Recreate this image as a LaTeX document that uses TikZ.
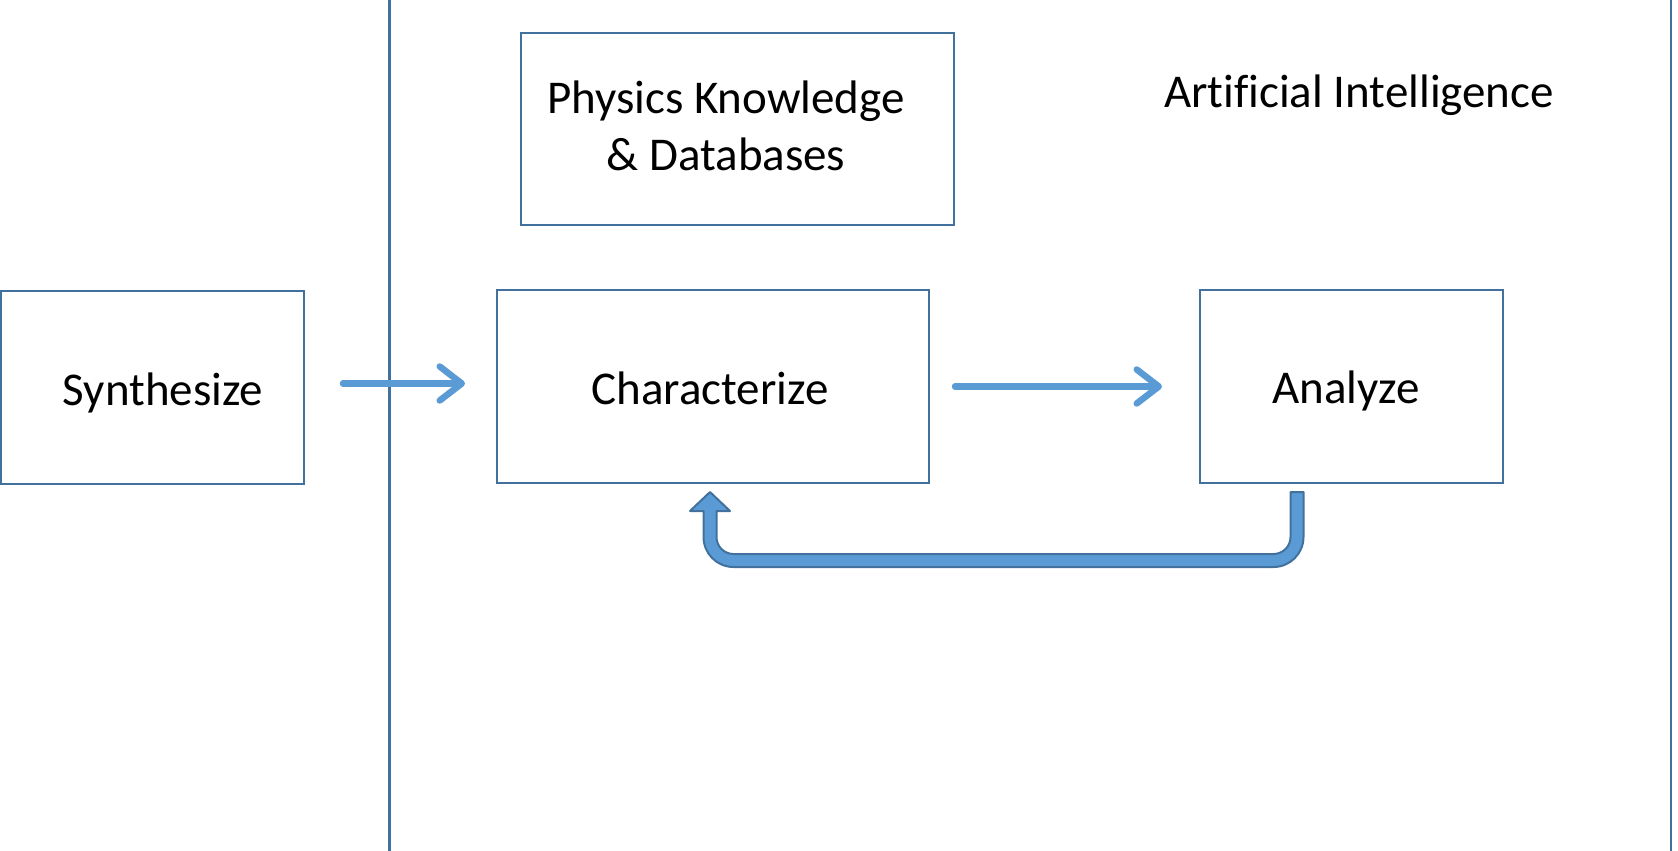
\documentclass[tikz,border=0pt]{standalone}
\usepackage{fontspec}
\setmainfont[Ligatures=NoCommon]{Carlito}
\usetikzlibrary{arrows.meta,calc}
\definecolor{edgeblue}{HTML}{41719C}
\definecolor{flowblue}{HTML}{5B9BD5}
\newcommand{\lowered}[2]{\raisebox{-#1}[\height][\depth]{#2}}
\begin{document}
\begin{tikzpicture}[x=1pt,y=-1pt,
  labelfont/.style={font=\fontsize{47}{57}\selectfont},
  box/.style={draw=edgeblue, line width=2pt, rectangle, inner sep=0pt, labelfont},
  txt/.style={inner sep=0pt, labelfont, align=center},
  divider/.style={draw=edgeblue, line width=2.5pt},
  flow/.style={draw=flowblue, line width=6.5pt, line cap=round,
    -{Straight Barb[length=22pt, width=34pt, line cap=round, line join=round]}},
  uturn/.style={fill=flowblue, draw=edgeblue, line width=2pt, line join=round}
]
\useasboundingbox (0,0) rectangle (1678,851);

% dividers between the stages
\coordinate (d1t) at (389.5,0);
\coordinate (d1b) at (389.5,851);
\coordinate (d2t) at (1671,0);
\coordinate (d2b) at (1671,851);
\draw[divider] (d1t) -- (d1b);
\draw[divider] (d2t) -- (d2b);

% boxes
\node[box, minimum width=303pt, minimum height=193pt] (synth) at (152.5,387.5) {\hspace*{21pt}\lowered{5pt}{Synthesize}};
\node[box, minimum width=432pt, minimum height=193pt] (char) at (713,386.5) {\hspace*{-6pt}\lowered{2pt}{Characterize}};
\node[box, minimum width=303pt, minimum height=193pt] (ana) at (1351.5,386.5) {\hspace*{-11pt}\lowered{4pt}{Analyze}};
\node[box, minimum width=433pt, minimum height=192pt] (phys) at (737.5,129) {};
\node[txt] (physt) at (726,126) {Physics Knowledge\\\& Databases};
\node[txt] (ai) at (1359,95) {Artificial Intelligence};

% forward arrows
\draw[flow] ([xshift=38pt,yshift=4pt]synth.east) -- ([xshift=-31pt,yshift=3pt]char.west);
\draw[flow] ([xshift=25pt]char.east) -- ([xshift=-37pt]ana.west);

% feedback arrow from Analyze back to Characterize
\coordinate (rt) at ($(ana.south)+(-54.5,8)$);
\coordinate (lt) at ($(char.south)+(-3,8)$);
\path[uturn]
  ($(rt)+(-6.5,0)$) -- ($(rt)+(6.5,0)$) -- ($(rt)+(6.5,45)$)
  .. controls ($(rt)+(6.5,61.57)$) and ($(rt)+(-6.93,75)$) .. ($(rt)+(-23.5,75)$)
  -- ($(lt)+(23.5,75)$)
  .. controls ($(lt)+(6.93,75)$) and ($(lt)+(-6.5,61.57)$) .. ($(lt)+(-6.5,45)$)
  -- ($(lt)+(-6.5,19)$) -- ($(lt)+(-20,19)$) -- (lt) -- ($(lt)+(20,19)$)
  -- ($(lt)+(6.5,19)$) -- ($(lt)+(6.5,45)$)
  .. controls ($(lt)+(6.5,54.39)$) and ($(lt)+(14.11,62)$) .. ($(lt)+(23.5,62)$)
  -- ($(rt)+(-23.5,62)$)
  .. controls ($(rt)+(-14.11,62)$) and ($(rt)+(-6.5,54.39)$) .. ($(rt)+(-6.5,45)$)
  -- cycle;
\end{tikzpicture}
\end{document}
